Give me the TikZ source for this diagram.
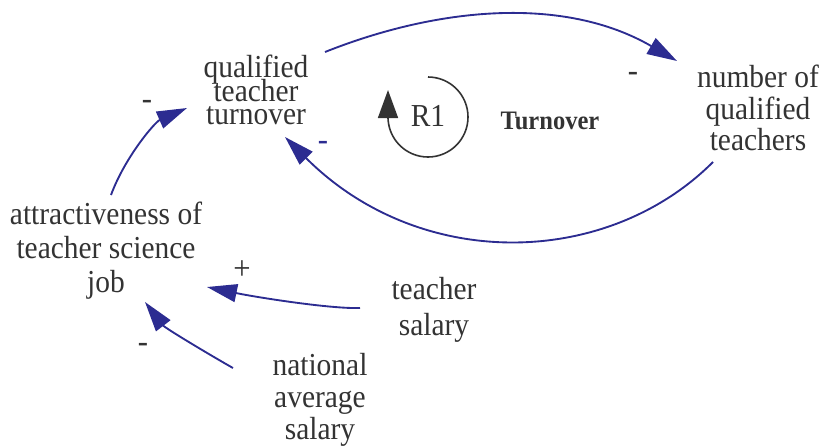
\documentclass[tikz,border=0pt]{standalone}
\usepackage{fontspec}
\setmainfont[FakeStretch=0.92]{Liberation Serif}
\usetikzlibrary{arrows.meta,calc}
\definecolor{linkblue}{RGB}{44,44,145}
\definecolor{txtgray}{RGB}{51,51,51}
\lineskiplimit=-100pt
\begin{document}
\begin{tikzpicture}[x=0.75pt,y=-0.75pt,
  var/.style={align=center, text=txtgray, inner sep=0pt,
    font=\fontsize{24}{#1}\selectfont},
  link/.style={draw=linkblue, line width=1.4pt,
    -{Triangle[length=22.5pt,width=13.5pt]}},
  pol/.style={text=txtgray, inner sep=0pt, font=\fontsize{25}{26}\selectfont},
  loopc/.style={draw=txtgray, line width=1.2pt},
]
\useasboundingbox (0,0) rectangle (823,447);

% variables
\node[var=17.5pt] (qtt) at (256,90) {qualified\\teacher\\turnover};
\node[var=23.6pt] (nqt) at (758,108) {number of\\qualified\\teachers};
\node[var=25.5pt] (att) at (106,251) {attractiveness of\\teacher science\\job};
\node[var=27pt] (ts) at (434,310) {teacher\\salary};
\node[var=24pt] (nas) at (320,400) {national\\average\\salary};

% loop marker
\node[var=24pt] (r1) at (428,116) {R1};
\node[text=txtgray, inner sep=0pt, font=\fontsize{20}{22}\selectfont\bfseries] (lname) at (550,121) {Turnover};
\draw[loopc] (428,77) arc[start angle=-90, end angle=180, radius=40];
\draw[loopc, fill=txtgray, -{Triangle[length=21pt,width=15pt]}] (388,118) -- (388,90);

% links
\draw[link] ($(qtt)+(69,-38)$) .. controls (438,7) and (564,-4.5) .. ($(nqt)+(-81,-47)$);
\draw[link] ($(nqt)+(-45,54)$) .. controls (607,268) and (420,272) .. ($(qtt)+(29,47)$);
\draw[link] ($(att)+(5,-56)$) .. controls (125,157) and (155,122) .. ($(qtt)+(-69,18)$);
\draw[link] ($(ts)+(-74,-2)$) .. controls (330,309) and (255,297) .. ($(att)+(101,36)$);
\draw[link] ($(nas)+(-87,-32)$) .. controls (210,355) and (165,328) .. ($(att)+(39,51)$);

% polarities
\node[pol] (p1) at (633,77) {-};
\node[pol, text=linkblue] (p2) at (323,146) {-};
\node[pol] (p3) at (147,105) {-};
\node[pol] (p4) at (242,270) {+};
\node[pol] (p5) at (143,348) {-};
\end{tikzpicture}
\end{document}
